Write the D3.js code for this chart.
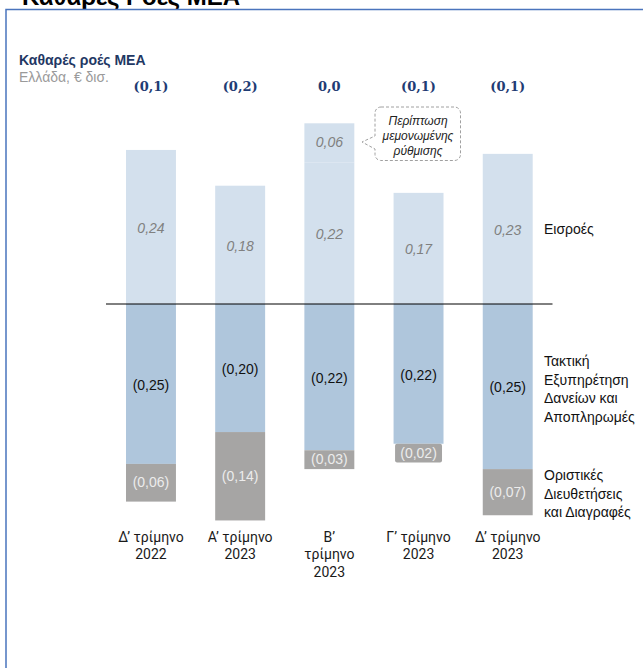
<!DOCTYPE html>
<html><head><meta charset="utf-8">
<script src="https://cdn.jsdelivr.net/npm/d3@7"></script>
<style>
html,body{margin:0;padding:0;background:#fff;}
svg{display:block;}
</style></head>
<body>
<svg id="c" width="643" height="668"></svg>
<script>
// ---- data ----
const categories = ["Q4 2022","Q1 2023","Q2 2023","Q3 2023","Q4 2023"];
const categoryLines = [["Δ’ τρίμηνο","2022"],["Α’ τρίμηνο","2023"],["Β’","τρίμηνο","2023"],["Γ’ τρίμηνο","2023"],["Δ’ τρίμηνο","2023"]];
const inflows = [0.237, 0.182, 0.218, 0.171, 0.231];
const oneOff = [0, 0, 0.060, 0, 0];
const servicing = [0.246, 0.197, 0.225, 0.215, 0.254];
const writeOffs = [0.058, 0.136, 0.029, 0.029, 0.071];
const inflowLabels = ["0,24","0,18","0,22","0,17","0,23"];
const oneOffLabels = ["","","0,06","",""];
const servicingLabels = ["(0,25)","(0,20)","(0,22)","(0,22)","(0,25)"];
const writeOffLabels = ["(0,06)","(0,14)","(0,03)","(0,02)","(0,07)"];
const netLabels = ["(0,1)","(0,2)","0,0","(0,1)","(0,1)"];
const seriesNames = {inflow:["Εισροές"], servicing:["Τακτική","Εξυπηρέτηση","Δανείων και","Αποπληρωμές"], writeoff:["Οριστικές","Διευθετήσεις","και Διαγραφές"]};
const calloutLines = ["Περίπτωση","μεμονωμένης","ρύθμισης"];

// ---- styles ----
const C = {light:"#d3e0ed", mid:"#afc6dc", grey:"#a6a5a4", navy:"#1f3c74"};
const SANS = "'Liberation Sans', Arial, sans-serif";

const svg = d3.select("#c");

// frame + clipped title
svg.append("text").attr("x",22).attr("y",4.5).attr("font-family",SANS).attr("font-weight","bold")
  .attr("font-size",24).attr("fill","#000").text("Καθαρές Ροές ΜΕΑ");
svg.append("rect").attr("x",6).attr("y",9.5).attr("width",700).attr("height",700)
  .attr("fill","#fff").attr("stroke","#4a74bd").attr("stroke-width",1.5);

svg.append("text").attr("x",19).attr("y",64.5).attr("font-family",SANS).attr("font-weight","bold")
  .attr("font-size",14).attr("fill","#1f3864").text("Καθαρές ροές ΜΕΑ");
svg.append("text").attr("x",19).attr("y",82).attr("font-family",SANS)
  .attr("font-size",14).attr("fill","#9a9a9a").text("Ελλάδα, € δισ.");

// scales
const x = d3.scaleBand().domain(categories).range([126, 532.7]).paddingInner(0.44).paddingOuter(0);
const y = d3.scaleLinear().domain([-0.34, 0.28]).range([525, 122]);
const bw = x.bandwidth();

const data = categories.map((c,i)=>({c,i,inflow:inflows[i],oneOff:oneOff[i],serv:servicing[i],wo:writeOffs[i]}));

const g = svg.append("g");
// inflows
g.selectAll(".inf").data(data).join("rect")
  .attr("x",d=>x(d.c)).attr("width",bw)
  .attr("y",d=>y(d.inflow)).attr("height",d=>y(0)-y(d.inflow)).attr("fill",C.light);
// one-off
g.selectAll(".one").data(data.filter(d=>d.oneOff>0)).join("rect")
  .attr("x",d=>x(d.c)).attr("width",bw)
  .attr("y",d=>y(d.inflow+d.oneOff)).attr("height",d=>y(d.inflow)-y(d.inflow+d.oneOff)).attr("fill",C.light);
// servicing
g.selectAll(".srv").data(data).join("rect")
  .attr("x",d=>x(d.c)).attr("width",bw)
  .attr("y",y(0)).attr("height",d=>y(-d.serv)-y(0)).attr("fill",C.mid);
// write-offs
g.selectAll(".wo").data(data).join("rect")
  .attr("x",d=>x(d.c)+(d.i===3?1.5:0)).attr("width",d=>bw-(d.i===3?3:0))
  .attr("rx",d=>d.i===3?2:0)
  .attr("y",d=>y(-d.serv)).attr("height",d=>y(-d.serv-d.wo)-y(-d.serv)).attr("fill",C.grey);

// zero line
svg.append("line").attr("x1",106).attr("x2",552.5).attr("y1",y(0)).attr("y2",y(0))
  .attr("stroke","#000").attr("stroke-width",1);

// value labels
const cx = d=>x(d.c)+bw/2;
g.selectAll(".linf").data(data).join("text")
  .attr("x",cx).attr("y",d=>(y(d.inflow)+y(0))/2+2)
  .attr("text-anchor","middle").attr("dominant-baseline","middle")
  .attr("font-family",SANS).attr("font-style","italic").attr("font-size",14).attr("fill","#808080")
  .text(d=>inflowLabels[d.i]);
g.selectAll(".lone").data(data.filter(d=>d.oneOff>0)).join("text")
  .attr("x",cx).attr("y",d=>(y(d.inflow)+y(d.inflow+d.oneOff))/2)
  .attr("text-anchor","middle").attr("dominant-baseline","middle")
  .attr("font-family",SANS).attr("font-style","italic").attr("font-size",14).attr("fill","#808080")
  .text(d=>oneOffLabels[d.i]);
g.selectAll(".lsrv").data(data).join("text")
  .attr("x",cx).attr("y",d=>(y(0)+y(-d.serv))/2+2)
  .attr("text-anchor","middle").attr("dominant-baseline","middle")
  .attr("font-family",SANS).attr("font-size",14).attr("fill","#111")
  .text(d=>servicingLabels[d.i]);
g.selectAll(".lwo").data(data).join("text")
  .attr("x",cx).attr("y",d=>(y(-d.serv)+y(-d.serv-d.wo))/2+1)
  .attr("text-anchor","middle").attr("dominant-baseline","middle")
  .attr("font-family",SANS).attr("font-size",14).attr("fill","#ececec")
  .text(d=>writeOffLabels[d.i]);

// net labels on top
g.selectAll(".net").data(data).join("text")
  .attr("x",cx).attr("y",87)
  .attr("text-anchor","middle").attr("dominant-baseline","middle")
  .attr("font-family","'DejaVu Serif', 'Liberation Serif', serif").attr("font-weight","bold")
  .attr("font-size",13).attr("fill",C.navy)
  .text(d=>netLabels[d.i]);

// category labels
const cat = g.selectAll(".cat").data(data).join("text")
  .attr("text-anchor","middle").attr("font-family","Roboto, sans-serif").attr("font-size",14).attr("fill","#1a1a1a");
cat.each(function(d){
  const t = d3.select(this);
  categoryLines[d.i].forEach((l,k)=>{
    t.append("tspan").attr("x",cx(d)).attr("y",541.5+k*17.5).text(l);
  });
});

// legend labels at right
function legend(lines, y0){
  const t = svg.append("text").attr("font-family",SANS).attr("font-size",14).attr("fill","#111");
  lines.forEach((l,k)=>t.append("tspan").attr("x",544).attr("y",y0+k*18.5).text(l));
}
legend(seriesNames.inflow, 234);
legend(seriesNames.servicing, 366);
legend(seriesNames.writeoff, 480);

// callout
const bx0=375, bx1=460.5, by0=107, by1=160.5, r=6;
const p = d3.path();
p.moveTo(bx0+r,by0);
p.lineTo(bx1-r,by0); p.arcTo(bx1,by0,bx1,by0+r,r);
p.lineTo(bx1,by1-r); p.arcTo(bx1,by1,bx1-r,by1,r);
p.lineTo(bx0+r,by1); p.arcTo(bx0,by1,bx0,by1-r,r);
p.lineTo(bx0,149); p.lineTo(362,142); p.lineTo(bx0,136);
p.lineTo(bx0,by0+r); p.arcTo(bx0,by0,bx0+r,by0,r);
p.closePath();
svg.append("path").attr("d",p.toString()).attr("fill","#fff").attr("stroke","#a0a0a0")
  .attr("stroke-width",1).attr("stroke-dasharray","3,2");
const ct = svg.append("text").attr("text-anchor","middle").attr("font-family",SANS)
  .attr("font-style","italic").attr("font-size",12).attr("fill","#222");
calloutLines.forEach((l,k)=>ct.append("tspan").attr("x",418).attr("y",125+k*14.8).text(l));
</script>
</body></html>
